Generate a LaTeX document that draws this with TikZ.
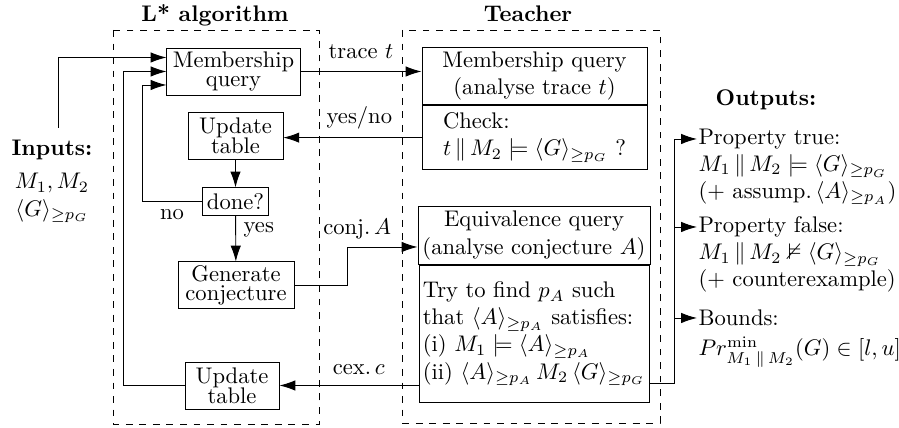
\documentclass[tikz,border=0pt]{standalone}
\usepackage{amssymb}
\usetikzlibrary{positioning,calc,arrows.meta}

\begin{document}
\begin{tikzpicture}[x=0.4425pt,y=-0.4425pt,
  >={Latex[length=7pt,width=4.6pt]},
  box/.style={draw,rectangle,align=center,inner xsep=2pt,inner ysep=1pt},
  tbox/.style={draw,rectangle,inner xsep=2pt,inner ysep=2pt},
  frame/.style={draw,dashed},
  head/.style={font=\bfseries},
  outtxt/.style={inner xsep=0.5pt,inner ysep=1pt,anchor=west}]
  \useasboundingbox (0,0) rectangle (899,428);

  % the two parties
  \draw[frame] (113,30) rectangle (319,424);
  \draw[frame] (402,30) rectangle (660,423);
  \node[head] (lstar) at (215,15) {L* algorithm};
  \node[head] (teacher) at (528,14) {Teacher};

  % learner
  \node[box,minimum width=58.9pt,minimum height=20.8pt] (mq) at (233.5,71.5) {Membership\\[-3.5pt]query};
  \node[box,minimum width=42pt,minimum height=20.8pt] (upd1) at (235.5,135.5) {Update\\[-3pt]table};
  \node[box,minimum width=28.8pt,minimum height=12pt] (done) at (235.5,201.5) {done?};
  \node[box,minimum width=51.3pt,minimum height=20.4pt] (gen) at (236,285) {Generate\\[-3.5pt]conjecture};
  \node[box,minimum width=41.6pt,minimum height=20.8pt] (upd2) at (232,385.5) {Update\\[-3pt]table};

  % teacher
  \node[tbox,align=center,minimum width=99.6pt,minimum height=23.9pt] (tmq) at (534.5,76)
    {Membership query\\(analyse trace $t$)};
  \node[tbox,align=left,minimum width=99.6pt,minimum height=28.3pt,below=0pt of tmq] (tchk)
    {Check:\\$t\,\|\,M_2 \models \langle G\rangle_{\geq p_G}$\ ?};
  \node[tbox,align=center,minimum width=101.8pt,minimum height=25.2pt] (teq) at (534,235.5)
    {Equivalence query\\(analyse conjecture $A$)};
  \node[tbox,align=left,inner xsep=1.5pt,minimum width=101.8pt,minimum height=60.6pt,below=0pt of teq] (ttry)
    {Try to find $p_A$ such\\that $\langle A\rangle_{\geq p_A}$ satisfies:\\(i) $M_1 \models \langle A\rangle_{\geq p_A}$\\(ii) $\langle A\rangle_{\geq p_A}\,M_2\,\langle G\rangle_{\geq p_G}$};

  % inputs and outputs
  \node[align=center,inner ysep=5pt] (inputs) at (52,181)
    {\textbf{Inputs:}\\[3pt]$M_1, M_2$\\$\langle G\rangle_{\geq p_G}$};
  \node[head] (outputs) at (766,100) {Outputs:};
  \node[outtxt] (ptrue) at (697,139) {Property true:};
  \node[outtxt,anchor=north west,align=left] (ptrueb) at (ptrue.south west)
    {$M_1\,\|\,M_2 \models \langle G\rangle_{\geq p_G}$\\(+ assump.\,$\langle A\rangle_{\geq p_A}$)};
  \node[outtxt] (pfalse) at (697,227) {Property false:};
  \node[outtxt,anchor=north west,align=left] (pfalseb) at (pfalse.south west)
    {$M_1\,\|\,M_2 \nvDash \langle G\rangle_{\geq p_G}$\\(+ counterexample)};
  \node[outtxt] (bounds) at (697,318) {Bounds:};
  \node[outtxt,anchor=north west] (boundsb) at ([yshift=-2.5pt]bounds.south west)
    {$Pr^{\min}_{M_1\,\|\,M_2}(G) \in [l,u]$};

  % learner loop
  \draw[->] ($(inputs.north)+(6,0)$) |- ($(mq.west)+(0,-14)$);
  \draw[->] (upd2.west) -- ++(-61,0) |- (mq.west);
  \draw[->] (done.west) -- ++(-60,0) node[midway,below] {no} |- ($(mq.west)+(0,13.5)$);
  \draw[->] (upd1) -- (done);
  \draw[->] (done) -- (gen) node[pos=0.3,right] {yes};

  % queries and answers
  \draw[->] (mq.east) -- (mq.east -| tmq.west) node[midway,above,yshift=2pt] {trace $t$};
  \draw[->] (tchk.west) -- (tchk.west -| upd1.east) node[pos=0.45,above] {yes/no};
  \draw[->] (gen.east) -- ++(53,0) |- ($(teq.west)+(0,11.5)$) node[pos=0.57,above] {conj.\,$A$};
  \draw[->] (ttry.west |- upd2.east) -- (upd2.east) node[pos=0.43,above,yshift=1pt] {cex.\,$c$};

  % results
  \coordinate (oj) at ($(ttry.east)+(25,49.5)$);
  \draw[->] (ttry.east |- oj) -- (oj) |- (ptrue.west);
  \draw[->] (oj |- pfalse.west) -- (pfalse.west);
  \draw[->] (oj |- bounds.west) -- (bounds.west);
\end{tikzpicture}
\end{document}
